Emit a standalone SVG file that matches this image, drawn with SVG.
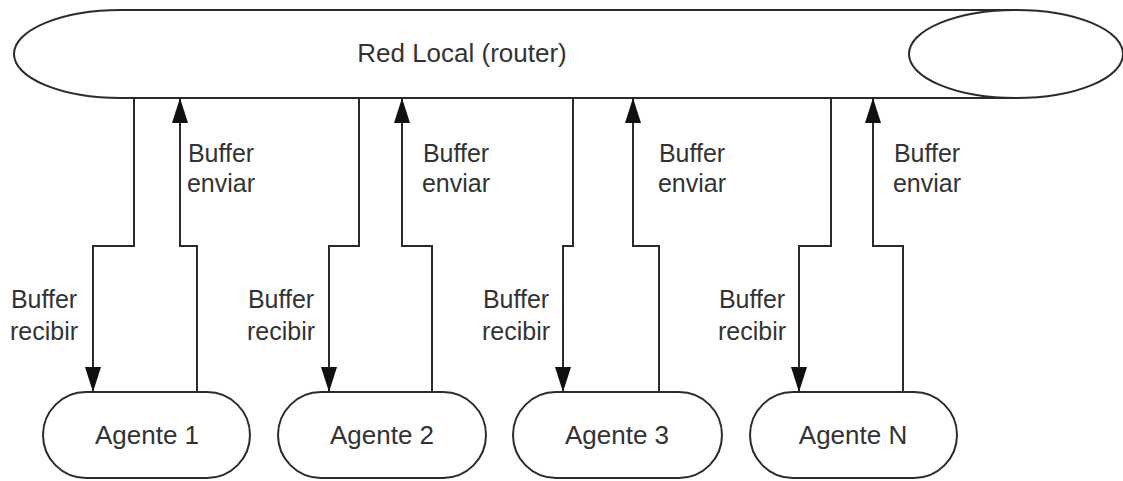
<svg xmlns="http://www.w3.org/2000/svg" width="1123" height="481" viewBox="0 0 1123 481">
  <style>
    .shape { fill: #ffffff; stroke: #2b2b2b; stroke-width: 2; }
    .wire { fill: none; stroke: #2b2b2b; stroke-width: 2; }
    .label { font-family: "Liberation Sans", Arial, sans-serif; font-size: 25px; fill: #333333; text-anchor: middle; }
    .big { font-size: 26px; }
  </style>
  <defs>
    <marker id="arrow" viewBox="0 0 25 16" refX="25" refY="8" markerWidth="25" markerHeight="16" markerUnits="userSpaceOnUse" orient="auto">
      <path d="M0,0 L25,8 L0,16 Z" fill="#111111"/>
    </marker>
  </defs>
  <rect width="1123" height="481" fill="#ffffff"/>

  <!-- Local network drawn as a horizontal cylinder -->
  <g id="red-local">
    <path class="shape" d="M121,10 H1016 A107,44 0 0 1 1016,98 H121 A107,44 0 0 1 121,10 Z"/>
    <path class="wire" d="M1016,10 A107,44 0 0 0 1016,98"/>
    <text class="label big" x="462" y="62">Red Local (router)</text>
  </g>

  <!-- Agents -->
  <g id="agente-1">
    <rect class="shape" x="43" y="392" width="207" height="86" rx="43" ry="43"/>
    <text class="label big" x="147" y="444">Agente 1</text>
  </g>
  <g id="agente-2">
    <rect class="shape" x="278" y="392" width="208" height="86" rx="43" ry="43"/>
    <text class="label big" x="382" y="444">Agente 2</text>
  </g>
  <g id="agente-3">
    <rect class="shape" x="513" y="392" width="209" height="86" rx="43" ry="43"/>
    <text class="label big" x="617" y="444">Agente 3</text>
  </g>
  <g id="agente-n">
    <rect class="shape" x="750" y="392" width="207" height="86" rx="43" ry="43"/>
    <text class="label big" x="853" y="444">Agente N</text>
  </g>

  <!-- Receive (down) and send (up) buffers between network and agents -->
  <g id="connectors">
    <path class="wire" d="M134,98 V246 H93 V392" marker-end="url(#arrow)"/>
    <path class="wire" d="M197,392 V246 H180 V98" marker-end="url(#arrow)"/>
    <path class="wire" d="M359,98 V246 H329 V392" marker-end="url(#arrow)"/>
    <path class="wire" d="M432,392 V246 H402 V98" marker-end="url(#arrow)"/>
    <path class="wire" d="M573,98 V246 H563 V392" marker-end="url(#arrow)"/>
    <path class="wire" d="M659,392 V246 H633 V98" marker-end="url(#arrow)"/>
    <path class="wire" d="M831,98 V246 H799 V392" marker-end="url(#arrow)"/>
    <path class="wire" d="M903,392 V246 H873 V98" marker-end="url(#arrow)"/>

    <text class="label" x="221" y="162">Buffer</text>
    <text class="label" x="221" y="192">enviar</text>
    <text class="label" x="456" y="162">Buffer</text>
    <text class="label" x="456" y="192">enviar</text>
    <text class="label" x="692" y="162">Buffer</text>
    <text class="label" x="692" y="192">enviar</text>
    <text class="label" x="927" y="162">Buffer</text>
    <text class="label" x="927" y="192">enviar</text>

    <text class="label" x="44" y="308">Buffer</text>
    <text class="label" x="44" y="340">recibir</text>
    <text class="label" x="281" y="308">Buffer</text>
    <text class="label" x="281" y="340">recibir</text>
    <text class="label" x="516" y="308">Buffer</text>
    <text class="label" x="516" y="340">recibir</text>
    <text class="label" x="752" y="308">Buffer</text>
    <text class="label" x="752" y="340">recibir</text>
  </g>
</svg>
